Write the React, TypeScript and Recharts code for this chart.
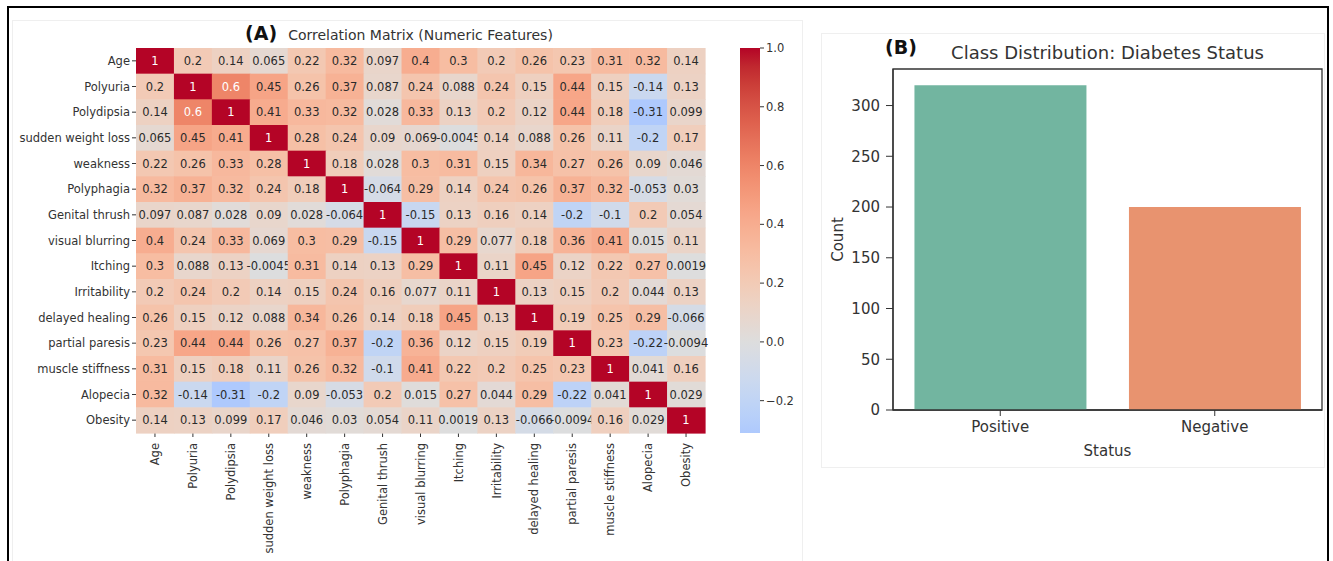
import React from "react";
import {
  ScatterChart,
  Scatter,
  BarChart,
  Bar,
  Cell,
  XAxis,
  YAxis,
  ReferenceArea,
} from "recharts";

// ---- data ----
const FEATURES = [
  "Age",
  "Polyuria",
  "Polydipsia",
  "sudden weight loss",
  "weakness",
  "Polyphagia",
  "Genital thrush",
  "visual blurring",
  "Itching",
  "Irritability",
  "delayed healing",
  "partial paresis",
  "muscle stiffness",
  "Alopecia",
  "Obesity",
];

const rowAge = [1, 0.2, 0.14, 0.065, 0.22, 0.32, 0.097, 0.4, 0.3, 0.2, 0.26, 0.23, 0.31, 0.32, 0.14];
const rowPolyuria = [0.2, 1, 0.6, 0.45, 0.26, 0.37, 0.087, 0.24, 0.088, 0.24, 0.15, 0.44, 0.15, -0.14, 0.13];
const rowPolydipsia = [0.14, 0.6, 1, 0.41, 0.33, 0.32, 0.028, 0.33, 0.13, 0.2, 0.12, 0.44, 0.18, -0.31, 0.099];
const rowWeightLoss = [0.065, 0.45, 0.41, 1, 0.28, 0.24, 0.09, 0.069, -0.0045, 0.14, 0.088, 0.26, 0.11, -0.2, 0.17];
const rowWeakness = [0.22, 0.26, 0.33, 0.28, 1, 0.18, 0.028, 0.3, 0.31, 0.15, 0.34, 0.27, 0.26, 0.09, 0.046];
const rowPolyphagia = [0.32, 0.37, 0.32, 0.24, 0.18, 1, -0.064, 0.29, 0.14, 0.24, 0.26, 0.37, 0.32, -0.053, 0.03];
const rowThrush = [0.097, 0.087, 0.028, 0.09, 0.028, -0.064, 1, -0.15, 0.13, 0.16, 0.14, -0.2, -0.1, 0.2, 0.054];
const rowBlurring = [0.4, 0.24, 0.33, 0.069, 0.3, 0.29, -0.15, 1, 0.29, 0.077, 0.18, 0.36, 0.41, 0.015, 0.11];
const rowItching = [0.3, 0.088, 0.13, -0.0045, 0.31, 0.14, 0.13, 0.29, 1, 0.11, 0.45, 0.12, 0.22, 0.27, 0.0019];
const rowIrritability = [0.2, 0.24, 0.2, 0.14, 0.15, 0.24, 0.16, 0.077, 0.11, 1, 0.13, 0.15, 0.2, 0.044, 0.13];
const rowHealing = [0.26, 0.15, 0.12, 0.088, 0.34, 0.26, 0.14, 0.18, 0.45, 0.13, 1, 0.19, 0.25, 0.29, -0.066];
const rowParesis = [0.23, 0.44, 0.44, 0.26, 0.27, 0.37, -0.2, 0.36, 0.12, 0.15, 0.19, 1, 0.23, -0.22, -0.0094];
const rowStiffness = [0.31, 0.15, 0.18, 0.11, 0.26, 0.32, -0.1, 0.41, 0.22, 0.2, 0.25, 0.23, 1, 0.041, 0.16];
const rowAlopecia = [0.32, -0.14, -0.31, -0.2, 0.09, -0.053, 0.2, 0.015, 0.27, 0.044, 0.29, -0.22, 0.041, 1, 0.029];
const rowObesity = [0.14, 0.13, 0.099, 0.17, 0.046, 0.03, 0.054, 0.11, 0.0019, 0.13, -0.066, -0.0094, 0.16, 0.029, 1];

const CORR = [
  rowAge, rowPolyuria, rowPolydipsia, rowWeightLoss, rowWeakness,
  rowPolyphagia, rowThrush, rowBlurring, rowItching, rowIrritability,
  rowHealing, rowParesis, rowStiffness, rowAlopecia, rowObesity,
];

const CB_TICKS = [-0.2, 0, 0.2, 0.4, 0.6, 0.8, 1.0];

const STATUS = ["Positive", "Negative"];
const COUNTS = [320, 200];
const COUNT_TICKS = [0, 50, 100, 150, 200, 250, 300];
const COUNT_MAX = 336;

// ---- styling ----
const FONT = '"DejaVu Sans", sans-serif';
const INK = "#333";
const BAR_COLORS = ["#72b5a0", "#e8936f"];

// coolwarm (Moreland) sampled every 1/32
const COOLWARM = [
  [59, 76, 192], [68, 90, 204], [77, 104, 215], [87, 117, 225], [98, 130, 234],
  [108, 142, 241], [119, 154, 247], [130, 165, 251], [141, 176, 254], [152, 185, 255],
  [163, 194, 255], [174, 201, 253], [184, 208, 249], [194, 213, 244], [204, 217, 238],
  [213, 219, 230], [221, 221, 221], [229, 216, 209], [236, 211, 197], [241, 204, 184],
  [245, 196, 172], [247, 187, 160], [247, 177, 148], [247, 166, 137], [244, 154, 123],
  [241, 141, 111], [236, 127, 99], [229, 112, 89], [222, 96, 77], [213, 80, 68],
  [203, 62, 56], [192, 40, 47], [180, 4, 38],
];

function coolwarm(t: number) {
  const p = Math.max(0, Math.min(1, t)) * 32;
  const i = Math.min(31, Math.floor(p));
  const f = p - i;
  const a = COOLWARM[i];
  const b = COOLWARM[i + 1];
  return [0, 1, 2].map((k) => Math.round(a[k] + (b[k] - a[k]) * f));
}

// seaborn center=0 -> symmetric norm [-1, 1]
const cellRgb = (v: number) => coolwarm((v + 1) / 2);
const rgbStr = (c: number[]) => `rgb(${c[0]},${c[1]},${c[2]})`;

function textColor(c: number[]) {
  const lin = c.map((x) => {
    const s = x / 255;
    return s <= 0.03928 ? s / 12.92 : Math.pow((s + 0.055) / 1.055, 2.4);
  });
  const lum = 0.2126 * lin[0] + 0.7152 * lin[1] + 0.0722 * lin[2];
  return lum > 0.408 ? "#2a2a2a" : "#ffffff";
}

const fmt = (v: number) => String(Number(v.toPrecision(2)));

const VMIN = Math.min(...CORR.flat());
const VMAX = Math.max(...CORR.flat());

// heatmap geometry
const HM_W = 720;
const HM_H = 561;
const HM_LEFT = 136;
const HM_TOP = 48;
const HM_RIGHT = 15;
const HM_BOTTOM = 128;
const CELL_W = (HM_W - HM_LEFT - HM_RIGHT) / FEATURES.length;
const CELL_H = (HM_H - HM_TOP - HM_BOTTOM) / FEATURES.length;

const cells = CORR.flatMap((row, i) => row.map((v, j) => ({ x: j, y: i, v })));
const idx = FEATURES.map((_, i) => i);

const renderCell = (props: any) => {
  const { cx, cy } = props;
  const v = props.payload ? props.payload.v : props.v;
  const c = cellRgb(v);
  return (
    <g>
      <rect
        x={cx - CELL_W / 2}
        y={cy - CELL_H / 2}
        width={CELL_W + 0.6}
        height={CELL_H + 0.6}
        fill={rgbStr(c)}
      />
      <text
        x={cx}
        y={cy}
        dy="0.36em"
        textAnchor="middle"
        fontSize={11.5}
        fontFamily={FONT}
        fill={textColor(c)}
      >
        {fmt(v)}
      </text>
    </g>
  );
};

const ColTick = ({ x, y, payload }: any) => (
  <g transform={`translate(${x},${y})`}>
    <text
      x={-4}
      y={0}
      dy="0.36em"
      transform="rotate(-90)"
      textAnchor="end"
      fontSize={11.5}
      fontFamily={FONT}
      fill={INK}
    >
      {FEATURES[payload.value]}
    </text>
  </g>
);

const ColorbarShape = (props: any) => {
  const { x, y, width, height } = props;
  const stops: { o: number; c: string }[] = [];
  stops.push({ o: 0, c: rgbStr(cellRgb(VMIN)) });
  COOLWARM.forEach((_, k) => {
    const v = (k / 32) * 2 - 1;
    if (v > VMIN && v < VMAX) {
      stops.push({ o: (v - VMIN) / (VMAX - VMIN), c: rgbStr(cellRgb(v)) });
    }
  });
  stops.push({ o: 1, c: rgbStr(cellRgb(VMAX)) });
  return (
    <g>
      <defs>
        <linearGradient id="cbGrad" x1="0" y1="1" x2="0" y2="0">
          {stops.map((s, i) => (
            <stop key={i} offset={s.o} stopColor={s.c} />
          ))}
        </linearGradient>
      </defs>
      <rect x={x} y={y} width={width} height={height} fill="url(#cbGrad)" />
    </g>
  );
};

const cbData = [{ name: "cb", range: [VMIN, VMAX] }];
const barData = STATUS.map((s, i) => ({ status: s, count: COUNTS[i] }));

const abs = (style: React.CSSProperties): React.CSSProperties => ({
  position: "absolute",
  ...style,
});

export default function App() {
  return (
    <div
      style={{
        position: "absolute",
        left: 0,
        top: 0,
        width: 1333,
        height: 561,
        background: "#fff",
        fontFamily: FONT,
        overflow: "hidden",
      }}
    >
      {/* frame + faint panel boxes */}
      <div style={abs({ left: 7, top: 6, width: 1322, height: 2, background: "#000" })} />
      <div style={abs({ left: 7, top: 6, width: 2, height: 555, background: "#000" })} />
      <div style={abs({ left: 1327, top: 6, width: 2, height: 555, background: "#000" })} />
      <div
        style={abs({
          left: 12,
          top: 20,
          width: 791,
          height: 560,
          border: "1px solid #efefef",
          boxSizing: "border-box",
        })}
      />
      <div
        style={abs({
          left: 821,
          top: 33,
          width: 504,
          height: 435,
          border: "1px solid #efefef",
          boxSizing: "border-box",
        })}
      />

      {/* panel A titles */}
      <div style={abs({ left: 245, top: 22, fontSize: 19, fontWeight: "bold", lineHeight: "22px", color: "#111" })}>
        (A)
      </div>
      <div
        style={abs({
          left: HM_LEFT,
          width: HM_W - HM_LEFT - HM_RIGHT,
          top: 26,
          textAlign: "center",
          fontSize: 14,
          lineHeight: "18px",
          color: INK,
        })}
      >
        Correlation Matrix (Numeric Features)
      </div>

      {/* heatmap */}
      <div style={abs({ left: 0, top: 0 })}>
        <ScatterChart
          width={HM_W}
          height={HM_H}
          margin={{ top: HM_TOP, right: HM_RIGHT, bottom: 0, left: 0 }}
        >
          <XAxis
            type="number"
            dataKey="x"
            domain={[-0.5, FEATURES.length - 0.5]}
            ticks={idx}
            interval={0}
            height={HM_BOTTOM}
            axisLine={false}
            tickSize={4}
            tickLine={{ stroke: INK }}
            tick={<ColTick />}
          />
          <YAxis
            type="number"
            dataKey="y"
            reversed
            domain={[-0.5, FEATURES.length - 0.5]}
            ticks={idx}
            interval={0}
            width={HM_LEFT}
            axisLine={false}
            tickSize={4}
            tickLine={{ stroke: INK }}
            tickFormatter={(i: number) => FEATURES[i]}
            tick={{ fontSize: 11.5, fill: INK, fontFamily: FONT }}
          />
          <Scatter data={cells} shape={renderCell} isAnimationActive={false} />
        </ScatterChart>
      </div>

      {/* colorbar */}
      <div style={abs({ left: 740, top: 0 })}>
        <BarChart
          width={62}
          height={HM_H}
          data={cbData}
          margin={{ top: HM_TOP, right: 0, bottom: HM_BOTTOM, left: 0 }}
          barCategoryGap={0}
        >
          <XAxis dataKey="name" hide />
          <YAxis
            orientation="right"
            type="number"
            domain={[VMIN, VMAX]}
            allowDataOverflow
            ticks={CB_TICKS}
            interval={0}
            width={42}
            axisLine={false}
            tickSize={4}
            tickLine={{ stroke: INK }}
            tickFormatter={(v: number) => (v < 0 ? "\u2212" + Math.abs(v).toFixed(1) : v.toFixed(1))}
            tick={{ fontSize: 11.5, fill: INK, fontFamily: FONT }}
          />
          <Bar dataKey="range" shape={<ColorbarShape />} isAnimationActive={false} />
        </BarChart>
      </div>

      {/* panel B titles */}
      <div style={abs({ left: 885, top: 36, fontSize: 19, fontWeight: "bold", lineHeight: "22px", color: "#111" })}>
        (B)
      </div>
      <div
        style={abs({
          left: 893,
          width: 429,
          top: 42,
          textAlign: "center",
          fontSize: 18,
          lineHeight: "22px",
          color: INK,
        })}
      >
        Class Distribution: Diabetes Status
      </div>

      {/* bar chart */}
      <div style={abs({ left: 810, top: 0 })}>
        <BarChart
          width={520}
          height={480}
          data={barData}
          margin={{ top: 69, right: 8, bottom: 0, left: 0 }}
          barCategoryGap="10%"
        >
          <XAxis
            dataKey="status"
            height={70}
            tickSize={6}
            tickMargin={5}
            axisLine={{ stroke: INK, strokeWidth: 1.3 }}
            tickLine={{ stroke: INK }}
            tick={{ fontSize: 15, fill: INK, fontFamily: FONT }}
            label={{
              content: (p: any) => {
                const vb = p.viewBox;
                return (
                  <text
                    x={vb.x + vb.width / 2}
                    y={vb.y + 46}
                    textAnchor="middle"
                    fontSize={15}
                    fontFamily={FONT}
                    fill={INK}
                  >
                    Status
                  </text>
                );
              },
            }}
          />
          <YAxis
            type="number"
            domain={[0, COUNT_MAX]}
            ticks={COUNT_TICKS}
            interval={0}
            width={83}
            tickSize={7}
            tickMargin={6}
            axisLine={{ stroke: INK, strokeWidth: 1.3 }}
            tickLine={{ stroke: INK }}
            tick={{ fontSize: 15, fill: INK, fontFamily: FONT }}
            label={{
              content: (p: any) => {
                const vb = p.viewBox;
                const cx = 838 - 810;
                const cy = vb.y + vb.height / 2;
                return (
                  <text
                    x={cx}
                    y={cy}
                    transform={`rotate(-90, ${cx}, ${cy})`}
                    textAnchor="middle"
                    dy="0.35em"
                    fontSize={15}
                    fontFamily={FONT}
                    fill={INK}
                  >
                    Count
                  </text>
                );
              },
            }}
          />
          <Bar dataKey="count" isAnimationActive={false}>
            {barData.map((_, i) => (
              <Cell key={i} fill={BAR_COLORS[i]} />
            ))}
          </Bar>
          <ReferenceArea
            y1={0}
            y2={COUNT_MAX}
            fill="none"
            fillOpacity={0}
            stroke={INK}
            strokeWidth={1.3}
            ifOverflow="visible"
          />
        </BarChart>
      </div>
    </div>
  );
}
